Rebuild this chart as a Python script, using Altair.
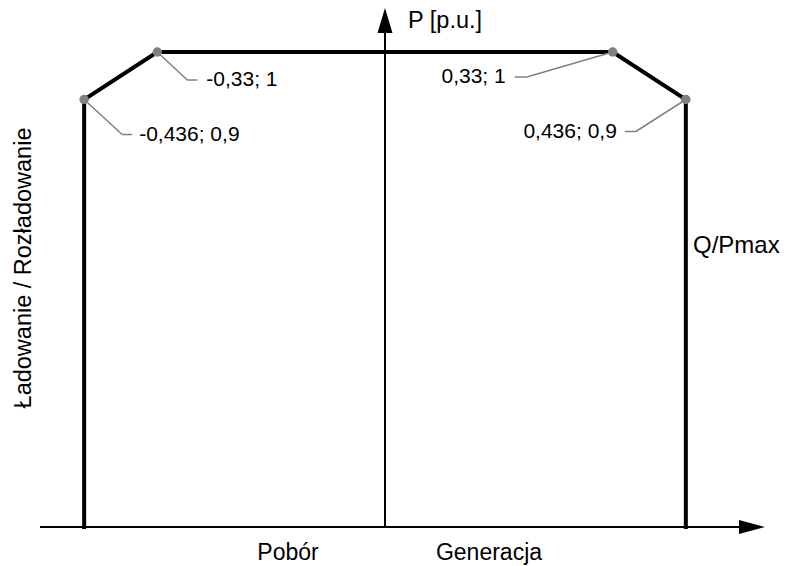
import altair as alt
import pandas as pd

# ---------------- data ----------------
q_values = [-0.436, -0.436, -0.33, 0.33, 0.436, 0.436]
p_values = [0.0, 0.9, 1.0, 1.0, 0.9, 0.0]
corner_q = [-0.436, -0.33, 0.33, 0.436]
corner_p = [0.9, 1.0, 1.0, 0.9]
corner_labels = ["-0,436; 0,9", "-0,33; 1", "0,33; 1", "0,436; 0,9"]
y_title = "Ładowanie / Rozładowanie"
p_title = "P [p.u.]"
q_title = "Q/Pmax"
left_label = "Pobór"
right_label = "Generacja"

# ---------------- layout ----------------
W, H = 776, 558
X0, SX = 377.0, 690.0   # plot px of Q=0, px per unit
Y0, SY = 519.0, 475.0   # plot px of P=0, px per unit
FONT = "Liberation Sans"
FS_LAB = 21
FS = 23


def qx(px):
    return (px - X0) / SX


def py(px):
    return (Y0 - px) / SY


xs = alt.Scale(domain=[qx(0), qx(W)], nice=False, zero=False)
ys = alt.Scale(domain=[py(H), py(0)], nice=False, zero=False)
X = lambda f: alt.X(f, type="quantitative", scale=xs, axis=None)
Y = lambda f: alt.Y(f, type="quantitative", scale=ys, axis=None)

# axes (arrows)
axes_df = pd.DataFrame({
    "x": [qx(32), 0.0], "x2": [qx(740), 0.0],
    "y": [0.0, 0.0], "y2": [0.0, py(22)],
})
axes = alt.Chart(axes_df).mark_rule(color="black", strokeWidth=2).encode(
    x=X("x"), x2="x2", y=Y("y"), y2="y2")

arrow_x = alt.Chart(pd.DataFrame({"x": [qx(744)], "y": [0.0]})).mark_point(
    shape="M-1,-0.54L1,0L-1,0.54Z", size=676, filled=True, color="black",
    opacity=1, strokeWidth=0).encode(x=X("x"), y=Y("y"))
arrow_y = alt.Chart(pd.DataFrame({"x": [0.0], "y": [py(12.5)]})).mark_point(
    shape="M-0.6,1L0,-1L0.6,1Z", size=625, filled=True, color="black",
    opacity=1, strokeWidth=0).encode(x=X("x"), y=Y("y"))

# capability curve
curve_df = pd.DataFrame({"q": q_values, "p": p_values, "i": range(len(q_values))})
curve = alt.Chart(curve_df).mark_line(
    color="black", strokeWidth=4, strokeJoin="miter", strokeCap="square").encode(
    x=X("q"), y=Y("p"), order="i:Q")

# leader lines (pixel offsets: elbow dx, elbow dy, end dx, text dx)
offsets = [(38, 35, 48, 7), (30, 28, 40, 9), (-86, 25, -98, -9), (-50, 32, -61, -8)]
seg_rows, lab_rows = [], []
for q, p, lab, (edx, edy, ndx, tdx) in zip(corner_q, corner_p, corner_labels, offsets):
    eq, ep = q + edx / SX, p - edy / SY
    nq = q + ndx / SX
    seg_rows.append({"x": q, "y": p, "x2": eq, "y2": ep})
    seg_rows.append({"x": eq, "y": ep, "x2": nq, "y2": ep})
    lab_rows.append({"x": nq + tdx / SX, "y": ep, "t": lab, "side": "L" if ndx > 0 else "R"})
seg_df = pd.DataFrame(seg_rows)
lab_df = pd.DataFrame(lab_rows)

leaders = alt.Chart(seg_df).mark_rule(color="#808080", strokeWidth=1.5).encode(
    x=X("x"), x2="x2", y=Y("y"), y2="y2")

dots = alt.Chart(pd.DataFrame({"q": corner_q, "p": corner_p})).mark_circle(
    color="#808080", size=90, opacity=1).encode(x=X("q"), y=Y("p"))

labels_l = alt.Chart(lab_df[lab_df.side == "L"]).mark_text(
    align="left", baseline="middle", font=FONT, fontSize=FS_LAB, color="black").encode(
    x=X("x"), y=Y("y"), text="t:N")
labels_r = alt.Chart(lab_df[lab_df.side == "R"]).mark_text(
    align="right", baseline="middle", font=FONT, fontSize=FS_LAB, color="black").encode(
    x=X("x"), y=Y("y"), text="t:N")


def static_text(txt, px, pyy, align="left", angle=0, size=FS):
    kw = dict(align=align, baseline="middle", font=FONT, fontSize=size, color="black")
    if angle:
        kw["angle"] = angle
    return alt.Chart(pd.DataFrame({"t": [txt]})).mark_text(**kw).encode(
        x=alt.value(px), y=alt.value(pyy), text="t:N")


texts = [
    static_text(p_title, 400, 13, "left", size=23.5),
    static_text(q_title, 685, 238, "left", size=24),
    static_text(left_label, 280, 545, "center"),
    static_text(right_label, 481, 545, "center"),
    static_text(y_title, 16, 260, "center", 270, size=23.5),
]

chart = alt.layer(axes, arrow_x, arrow_y, curve, leaders, dots, labels_l, labels_r, *texts).properties(
    width=W, height=H, padding=0, autosize=alt.AutoSizeParams(type="none"), background="white"
).configure_view(strokeWidth=0)

chart.save("out.html", embed_options={"renderer": "svg", "actions": False})
